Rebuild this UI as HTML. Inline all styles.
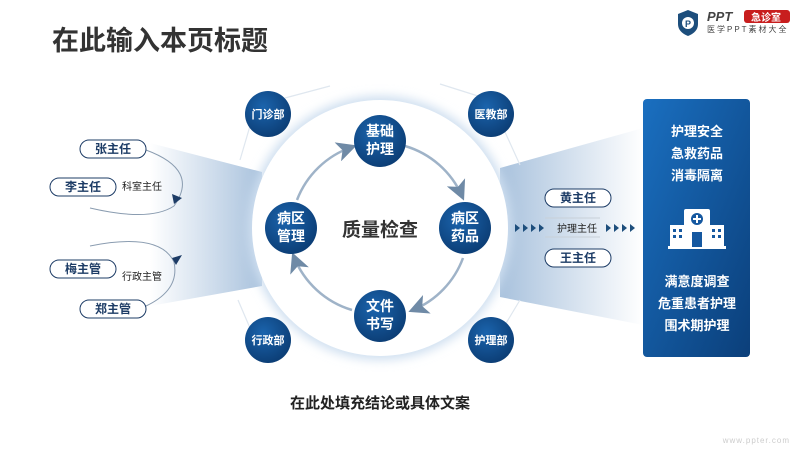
<!DOCTYPE html>
<html><head><meta charset="utf-8"><style>
html,body{margin:0;padding:0;background:#fff;}
svg text{font-family:"Liberation Sans","Noto Sans CJK SC",sans-serif;}
</style></head><body>
<svg width="800" height="450" viewBox="0 0 800 450" xmlns="http://www.w3.org/2000/svg">
<defs>
<linearGradient id="lf" x1="0" x2="1" y1="0" y2="0"><stop offset="0" stop-color="#fff"/><stop offset="1" stop-color="#a9c2dd"/></linearGradient>
<linearGradient id="rf" x1="0" x2="1" y1="0" y2="0"><stop offset="0" stop-color="#a9c2dd"/><stop offset="1" stop-color="#fff"/></linearGradient>
<linearGradient id="pn" x1="0" x2="1" y1="0" y2="1"><stop offset="0" stop-color="#1a6fc0"/><stop offset="1" stop-color="#0b3f7a"/></linearGradient>
<radialGradient id="nd" cx="0.4" cy="0.35" r="0.7"><stop offset="0" stop-color="#1b64ad"/><stop offset="1" stop-color="#0b3c73"/></radialGradient>
<filter id="bl" x="-20%" y="-20%" width="140%" height="140%"><feGaussianBlur stdDeviation="5"/></filter>
<marker id="ah" markerWidth="8" markerHeight="8" refX="6" refY="4" orient="auto"><path d="M0,0 L8,4 L0,8 L2,4Z" fill="#6f8aa6"/></marker>
</defs>
<text x="52" y="50" font-size="27" font-weight="bold" fill="#333">在此输入本页标题</text>
<path d="M678,14 L688,10 L698,14 L698,24 Q698,32 688,36 Q678,32 678,24Z" fill="#1d4e7c"/>
<circle cx="688" cy="23" r="6" fill="#fff"/><text x="685" y="27" font-size="9" font-weight="bold" fill="#1d4e7c">P</text>
<text x="707" y="21" font-size="13" font-weight="bold" fill="#444" font-style="italic">PPT</text>
<rect x="744" y="10" width="46" height="13" rx="3" fill="#c81e1e"/><text x="751" y="21" font-size="10" fill="#fff" font-weight="bold">急诊室</text>
<text x="707" y="32" font-size="8" fill="#444" letter-spacing="2">医学PPT素材大全</text>
<polygon points="150,143 262,172 262,286 150,306" fill="url(#lf)"/>
<polygon points="500,168 643,128 643,325 500,297" fill="url(#rf)"/>
<g stroke="#dfe7ef" stroke-width="1.2">
<line x1="285" y1="98" x2="330" y2="86"/>
<line x1="250" y1="126" x2="240" y2="160"/>
<line x1="478" y1="96" x2="440" y2="84"/>
<line x1="505" y1="132" x2="520" y2="165"/>
<line x1="250" y1="328" x2="238" y2="300"/>
<line x1="505" y1="325" x2="520" y2="300"/>
</g>
<circle cx="380" cy="228" r="132" fill="#cfdff0" filter="url(#bl)"/>
<circle cx="380" cy="228" r="128" fill="#fff"/>
<g fill="none" stroke="#9fb3c8" stroke-width="2.5" marker-end="url(#ah)">
<path d="M405,146 A90,90 0 0 1 462,196"/>
<path d="M463,258 A90,90 0 0 1 413,310"/>
<path d="M352,310 A90,90 0 0 1 294,257"/>
<path d="M297,200 A90,90 0 0 1 352,147"/>
</g>
<text x="380" y="236" font-size="19" font-weight="bold" fill="#333" text-anchor="middle">质量检查</text>
<g font-size="14" font-weight="bold" fill="#fff" text-anchor="middle">
<circle cx="380" cy="141" r="26" fill="url(#nd)"/><text x="380" y="136">基础</text><text x="380" y="154">护理</text>
<circle cx="465" cy="228" r="26" fill="url(#nd)"/><text x="465" y="223">病区</text><text x="465" y="241">药品</text>
<circle cx="380" cy="316" r="26" fill="url(#nd)"/><text x="380" y="311">文件</text><text x="380" y="329">书写</text>
<circle cx="291" cy="228" r="26" fill="url(#nd)"/><text x="291" y="223">病区</text><text x="291" y="241">管理</text>
</g>
<g font-size="11" font-weight="bold" fill="#fff" text-anchor="middle">
<circle cx="268" cy="114" r="23" fill="url(#nd)"/><text x="268" y="118">门诊部</text>
<circle cx="491" cy="114" r="23" fill="url(#nd)"/><text x="491" y="118">医教部</text>
<circle cx="268" cy="340" r="23" fill="url(#nd)"/><text x="268" y="344">行政部</text>
<circle cx="491" cy="340" r="23" fill="url(#nd)"/><text x="491" y="344">护理部</text>
</g>
<g fill="none" stroke="#8a9cb0" stroke-width="1">
<path d="M146,150 Q200,170 174,206 Q150,222 90,208"/>
<path d="M90,246 Q160,232 174,262 Q180,290 146,306"/>
</g>
<path d="M172,194 L182,198 L174,204Z" fill="#1d3c66"/>
<path d="M172,258 L182,255 L176,265Z" fill="#1d3c66"/>
<g font-size="12" font-weight="bold" fill="#1d3c66" text-anchor="middle" stroke-width="1">
<rect x="80" y="140" width="66" height="18" rx="9" fill="#fff" stroke="#1d3c66"/><text x="113" y="153">张主任</text>
<rect x="50" y="178" width="66" height="18" rx="9" fill="#fff" stroke="#1d3c66"/><text x="83" y="191">李主任</text>
<rect x="50" y="260" width="66" height="18" rx="9" fill="#fff" stroke="#1d3c66"/><text x="83" y="273">梅主管</text>
<rect x="80" y="300" width="66" height="18" rx="9" fill="#fff" stroke="#1d3c66"/><text x="113" y="313">郑主管</text>
<rect x="545" y="189" width="66" height="18" rx="9" fill="#fff" stroke="#1d3c66"/><text x="578" y="202">黄主任</text>
<rect x="545" y="249" width="66" height="18" rx="9" fill="#fff" stroke="#1d3c66"/><text x="578" y="262">王主任</text>
</g>
<text x="122" y="190" font-size="10" fill="#222">科室主任</text>
<text x="122" y="280" font-size="10" fill="#222">行政主管</text>
<line x1="545" y1="218" x2="600" y2="218" stroke="#c8d0d8"/>
<line x1="545" y1="237" x2="600" y2="237" stroke="#c8d0d8"/>
<text x="577" y="232" font-size="10" fill="#222" text-anchor="middle">护理主任</text>
<g fill="#1d4e7c">
<path d="M515,224 l5,4 l-5,4Z"/><path d="M523,224 l5,4 l-5,4Z"/><path d="M531,224 l5,4 l-5,4Z"/><path d="M539,224 l5,4 l-5,4Z"/>
<path d="M606,224 l5,4 l-5,4Z"/><path d="M614,224 l5,4 l-5,4Z"/><path d="M622,224 l5,4 l-5,4Z"/><path d="M630,224 l5,4 l-5,4Z"/>
</g>
<rect x="643" y="99" width="107" height="258" rx="4" fill="url(#pn)"/>
<g font-size="13" font-weight="bold" fill="#fff" text-anchor="middle">
<text x="697" y="136">护理安全</text><text x="697" y="158">急救药品</text><text x="697" y="180">消毒隔离</text>
<text x="697" y="286">满意度调查</text><text x="697" y="308">危重患者护理</text><text x="697" y="330">围术期护理</text>
</g>
<g fill="#fff">
<rect x="670" y="225" width="16" height="22"/><rect x="708" y="225" width="16" height="22"/>
<rect x="684" y="209" width="26" height="38" rx="2"/><rect x="668" y="246" width="58" height="3"/>
</g>
<g fill="#1558a0"><circle cx="697" cy="219" r="6"/><rect x="692" y="232" width="10" height="15"/>
<rect x="673" y="229" width="3" height="3"/><rect x="679" y="229" width="3" height="3"/><rect x="673" y="235" width="3" height="3"/><rect x="679" y="235" width="3" height="3"/>
<rect x="712" y="229" width="3" height="3"/><rect x="718" y="229" width="3" height="3"/><rect x="712" y="235" width="3" height="3"/><rect x="718" y="235" width="3" height="3"/></g>
<path d="M697,215 v8 M693,219 h8" stroke="#fff" stroke-width="2"/>
<text x="380" y="408" font-size="15" font-weight="bold" fill="#222" text-anchor="middle">在此处填充结论或具体文案</text>
<text x="790" y="443" font-size="8" fill="#ccc" text-anchor="end" letter-spacing="1">www.ppter.com</text>
</svg>
</body></html>
